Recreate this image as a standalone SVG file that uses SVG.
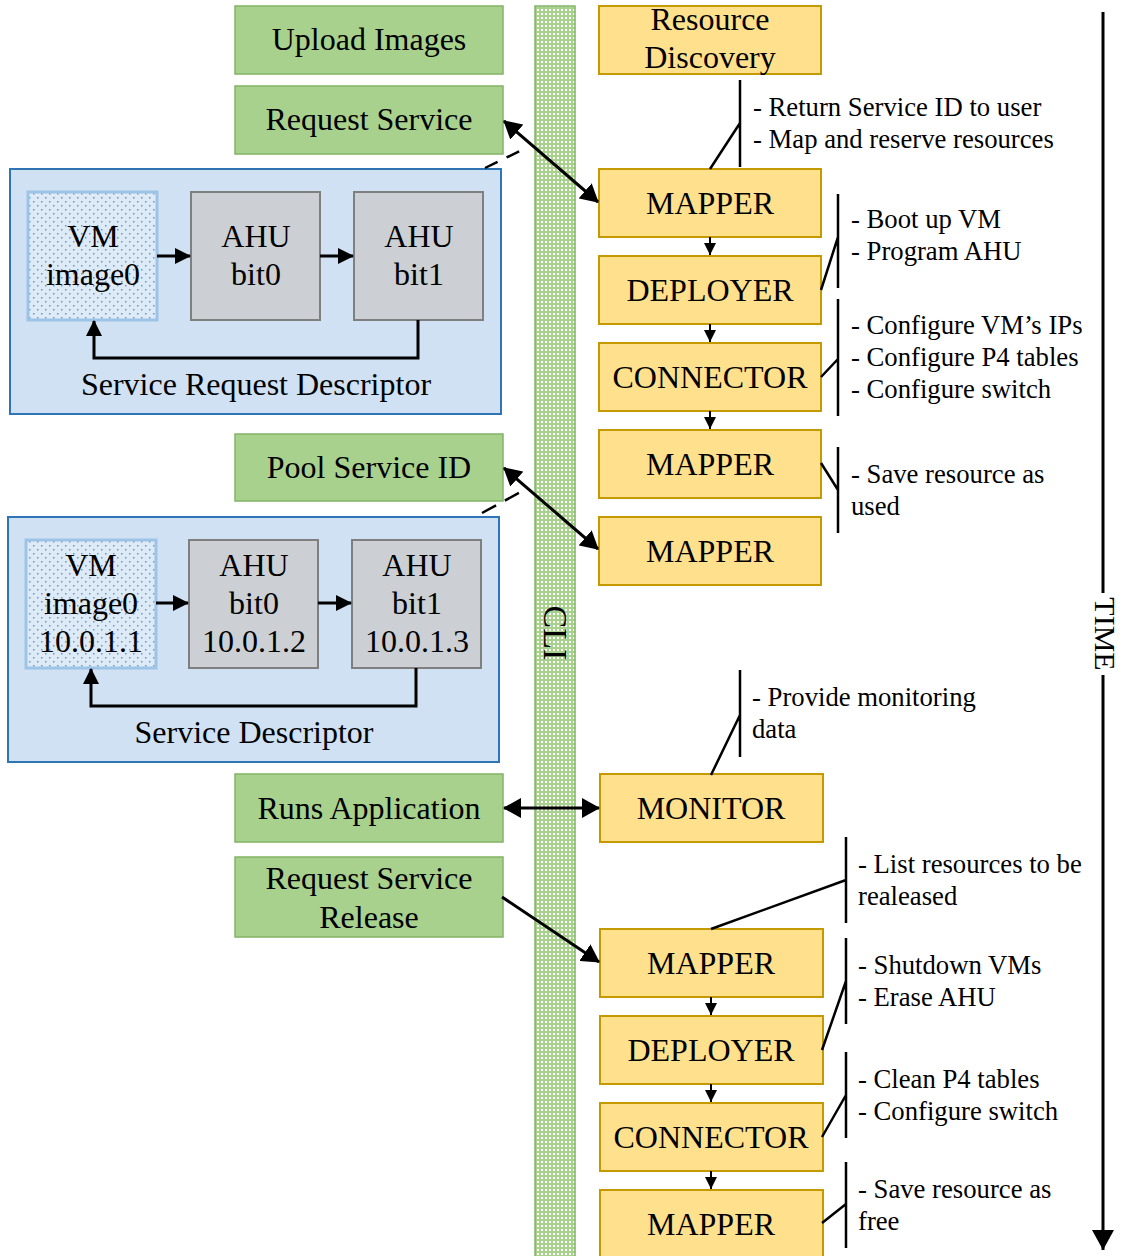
<svg xmlns="http://www.w3.org/2000/svg" width="1123" height="1256" viewBox="0 0 1123 1256">
  <defs>
    <style>
      text { font-family: "Liberation Serif", "Times New Roman", serif; fill: #000; }
      .big { font-size: 32px; text-anchor: middle; }
      .note { font-size: 26.7px; }
      .green { fill: #a9d18e; stroke: #82b366; stroke-width: 1.5; }
      .yellow { fill: #ffe08c; stroke: #c49a00; stroke-width: 2; }
      .desc { fill: #cfe1f3; stroke: #2e75b6; stroke-width: 2; }
      .ahu { fill: #ccd0d4; stroke: #7f7f7f; stroke-width: 2; }
      .vm { fill: url(#dots); stroke: #9dc3e6; stroke-width: 3; }
      .conn { stroke: #000; stroke-width: 3; fill: none; }
      .step { stroke: #000; stroke-width: 2; fill: none; }
      .brace { stroke: #000; stroke-width: 2.5; fill: none; }
    </style>
    <pattern id="dots" width="8" height="8" patternUnits="userSpaceOnUse">
      <rect width="8" height="8" fill="#deebf7"/>
      <rect x="1" y="1" width="1.5" height="1.5" fill="#5b9bd5"/>
      <rect x="5" y="5" width="1.5" height="1.5" fill="#5b9bd5"/>
    </pattern>
    <pattern id="cli" width="4" height="4" patternUnits="userSpaceOnUse">
      <rect width="4" height="4" fill="#a9d18e"/>
      <rect x="1" y="1" width="2" height="2" fill="#ffffff"/>
    </pattern>
    <marker id="big" viewBox="0 0 18 20" refX="17" refY="10" markerWidth="18" markerHeight="20" markerUnits="userSpaceOnUse" orient="auto-start-reverse">
      <path d="M0,0 L18,10 L0,20 Z" fill="#000"/>
    </marker>
    <marker id="mid" viewBox="0 0 16 16" refX="15" refY="8" markerWidth="16" markerHeight="16" markerUnits="userSpaceOnUse" orient="auto">
      <path d="M0,0 L16,8 L0,16 Z" fill="#000"/>
    </marker>
    <marker id="small" viewBox="0 0 12 12" refX="12" refY="6" markerWidth="12" markerHeight="12" markerUnits="userSpaceOnUse" orient="auto">
      <path d="M0,0 L12,6 L0,12 Z" fill="#000"/>
    </marker>
    <marker id="time" viewBox="0 0 20 22" refX="20" refY="11" markerWidth="20" markerHeight="22" markerUnits="userSpaceOnUse" orient="auto">
      <path d="M0,0 L20,11 L0,22 Z" fill="#000"/>
    </marker>
  </defs>

  <rect width="1123" height="1256" fill="#ffffff"/>

  <!-- CLI bar -->
  <g id="cli">
    <rect x="535" y="6" width="40" height="1256" fill="url(#cli)" stroke="#82b366" stroke-width="1.5"/>
    <text transform="translate(555,633) rotate(90)" font-size="34" text-anchor="middle" dominant-baseline="central">CLI</text>
  </g>

  <!-- user actions -->
  <g id="upload-images">
    <rect class="green" x="235" y="6" width="268" height="68"/>
    <text class="big" x="369" y="50">Upload Images</text>
  </g>
  <g id="request-service">
    <rect class="green" x="235" y="86" width="268" height="68"/>
    <text class="big" x="369" y="130">Request Service</text>
  </g>
  <g id="pool-service-id">
    <rect class="green" x="235" y="434" width="268" height="67"/>
    <text class="big" x="369" y="478">Pool Service ID</text>
  </g>
  <g id="runs-application">
    <rect class="green" x="235" y="774" width="268" height="68"/>
    <text class="big" x="369" y="819">Runs Application</text>
  </g>
  <g id="request-release">
    <rect class="green" x="235" y="857" width="268" height="80"/>
    <text class="big" x="369" y="889">Request Service</text>
    <text class="big" x="369" y="928">Release</text>
  </g>

  <!-- service request descriptor -->
  <g id="service-request-descriptor">
    <rect class="desc" x="10" y="169" width="491" height="245"/>
    <rect class="vm" x="28" y="192" width="129" height="128"/>
    <text class="big" x="93" y="247">VM</text>
    <text class="big" x="93" y="285">image0</text>
    <rect class="ahu" x="191" y="192" width="129" height="128"/>
    <text class="big" x="256" y="247">AHU</text>
    <text class="big" x="256" y="285">bit0</text>
    <rect class="ahu" x="354" y="192" width="129" height="128"/>
    <text class="big" x="419" y="247">AHU</text>
    <text class="big" x="419" y="285">bit1</text>
    <path class="conn" d="M157,256 H190" marker-end="url(#mid)"/>
    <path class="conn" d="M320,256 H353" marker-end="url(#mid)"/>
    <path class="conn" d="M418,320 V358 H94 V321" marker-end="url(#mid)"/>
    <text class="big" x="256" y="395">Service Request Descriptor</text>
  </g>

  <!-- service descriptor -->
  <g id="service-descriptor">
    <rect class="desc" x="8" y="517" width="491" height="245"/>
    <rect class="vm" x="26" y="540" width="130" height="128"/>
    <text class="big" x="91" y="576">VM</text>
    <text class="big" x="91" y="614">image0</text>
    <text class="big" x="91" y="652">10.0.1.1</text>
    <rect class="ahu" x="189" y="540" width="129" height="128"/>
    <text class="big" x="254" y="576">AHU</text>
    <text class="big" x="254" y="614">bit0</text>
    <text class="big" x="254" y="652">10.0.1.2</text>
    <rect class="ahu" x="352" y="540" width="129" height="128"/>
    <text class="big" x="417" y="576">AHU</text>
    <text class="big" x="417" y="614">bit1</text>
    <text class="big" x="417" y="652">10.0.1.3</text>
    <path class="conn" d="M156,603 H188" marker-end="url(#mid)"/>
    <path class="conn" d="M318,603 H351" marker-end="url(#mid)"/>
    <path class="conn" d="M416,668 V706 H91 V669" marker-end="url(#mid)"/>
    <text class="big" x="254" y="743">Service Descriptor</text>
  </g>

  <!-- controller modules -->
  <g id="resource-discovery">
    <rect class="yellow" x="599" y="6" width="222" height="68"/>
    <text class="big" x="710" y="30">Resource</text>
    <text class="big" x="710" y="68">Discovery</text>
  </g>
  <g id="mapper-1">
    <rect class="yellow" x="599" y="169" width="222" height="68"/>
    <text class="big" x="710" y="214">MAPPER</text>
  </g>
  <g id="deployer-1">
    <rect class="yellow" x="599" y="256" width="222" height="68"/>
    <text class="big" x="710" y="301">DEPLOYER</text>
  </g>
  <g id="connector-1">
    <rect class="yellow" x="599" y="343" width="222" height="68"/>
    <text class="big" x="710" y="388">CONNECTOR</text>
  </g>
  <g id="mapper-2">
    <rect class="yellow" x="599" y="430" width="222" height="68"/>
    <text class="big" x="710" y="475">MAPPER</text>
  </g>
  <g id="mapper-3">
    <rect class="yellow" x="599" y="517" width="222" height="68"/>
    <text class="big" x="710" y="562">MAPPER</text>
  </g>
  <g id="monitor">
    <rect class="yellow" x="600" y="774" width="223" height="68"/>
    <text class="big" x="711" y="819">MONITOR</text>
  </g>
  <g id="mapper-4">
    <rect class="yellow" x="600" y="929" width="223" height="68"/>
    <text class="big" x="711" y="974">MAPPER</text>
  </g>
  <g id="deployer-2">
    <rect class="yellow" x="600" y="1016" width="223" height="68"/>
    <text class="big" x="711" y="1061">DEPLOYER</text>
  </g>
  <g id="connector-2">
    <rect class="yellow" x="600" y="1103" width="223" height="68"/>
    <text class="big" x="711" y="1148">CONNECTOR</text>
  </g>
  <g id="mapper-5">
    <rect class="yellow" x="600" y="1190" width="223" height="80"/>
    <text class="big" x="711" y="1235">MAPPER</text>
  </g>

  <!-- connectors -->
  <g id="connectors">
    <path d="M485,168 L528,147" stroke="#000" stroke-width="2.5" stroke-dasharray="14,10" fill="none"/>
    <path d="M482,513 L528,488" stroke="#000" stroke-width="2.5" stroke-dasharray="16,10" fill="none"/>
    <path class="conn" d="M504,121 L598,202" marker-start="url(#big)" marker-end="url(#big)"/>
    <path class="conn" d="M504,468 L598,549" marker-start="url(#big)" marker-end="url(#big)"/>
    <path class="conn" d="M504,808 H599" marker-start="url(#big)" marker-end="url(#big)"/>
    <path class="conn" d="M502,897 L599,962" marker-end="url(#big)"/>
    <path class="step" d="M710,237 V255" marker-end="url(#small)"/>
    <path class="step" d="M710,324 V342" marker-end="url(#small)"/>
    <path class="step" d="M710,411 V429" marker-end="url(#small)"/>
    <path class="step" d="M711,997 V1015" marker-end="url(#small)"/>
    <path class="step" d="M711,1084 V1102" marker-end="url(#small)"/>
    <path class="step" d="M711,1171 V1189" marker-end="url(#small)"/>
  </g>

  <!-- step notes -->
  <g id="note-discovery">
    <path class="brace" d="M740,80 V167 M710,169 L740,123"/>
    <text class="note" x="753" y="116">- Return Service ID to user</text>
    <text class="note" x="753" y="148">- Map and reserve resources</text>
  </g>
  <g id="note-deploy">
    <path class="brace" d="M838,194 V288 M821,290 L838,237"/>
    <text class="note" x="851" y="228">- Boot up VM</text>
    <text class="note" x="851" y="260">- Program AHU</text>
  </g>
  <g id="note-connect">
    <path class="brace" d="M838,299 V416 M821,377 L838,359"/>
    <text class="note" x="851" y="334">- Configure VM’s IPs</text>
    <text class="note" x="851" y="366">- Configure P4 tables</text>
    <text class="note" x="851" y="398">- Configure switch</text>
  </g>
  <g id="note-used">
    <path class="brace" d="M838,447 V533 M821,463 L838,490"/>
    <text class="note" x="851" y="483">- Save resource as</text>
    <text class="note" x="851" y="515">used</text>
  </g>
  <g id="note-monitor">
    <path class="brace" d="M740,670 V757 M711,775 L740,715"/>
    <text class="note" x="752" y="706">- Provide monitoring</text>
    <text class="note" x="752" y="738">data</text>
  </g>
  <g id="note-release">
    <path class="brace" d="M846,837 V923 M711,929 L846,880"/>
    <text class="note" x="858" y="873">- List resources to be</text>
    <text class="note" x="858" y="905">realeased</text>
  </g>
  <g id="note-shutdown">
    <path class="brace" d="M846,938 V1024 M822,1050 L846,981"/>
    <text class="note" x="858" y="974">- Shutdown VMs</text>
    <text class="note" x="858" y="1006">- Erase AHU</text>
  </g>
  <g id="note-clean">
    <path class="brace" d="M846,1052 V1138 M822,1137 L846,1095"/>
    <text class="note" x="858" y="1088">- Clean P4 tables</text>
    <text class="note" x="858" y="1120">- Configure switch</text>
  </g>
  <g id="note-free">
    <path class="brace" d="M846,1162 V1248 M822,1223 L846,1204"/>
    <text class="note" x="858" y="1198">- Save resource as</text>
    <text class="note" x="858" y="1230">free</text>
  </g>

  <!-- time axis -->
  <g id="time-axis">
    <path d="M1103,12 V593" stroke="#000" stroke-width="3" fill="none"/>
    <path d="M1103,675 V1250" stroke="#000" stroke-width="3" fill="none" marker-end="url(#time)"/>
    <text transform="translate(1105,634) rotate(90)" font-size="30" text-anchor="middle" dominant-baseline="central">TIME</text>
  </g>
</svg>
